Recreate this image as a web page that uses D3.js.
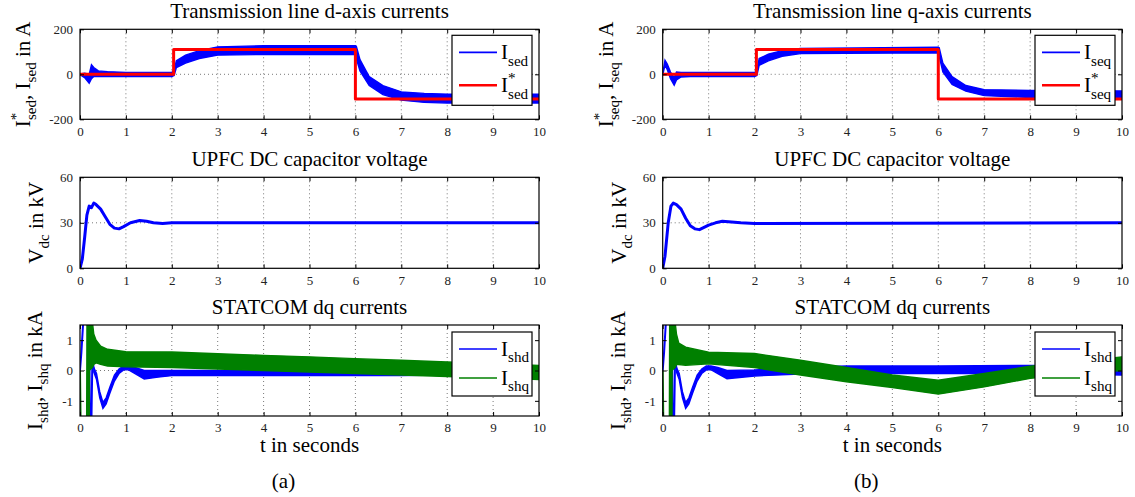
<!DOCTYPE html>
<html>
<head>
<meta charset="utf-8">
<script src="https://cdn.jsdelivr.net/npm/d3@7"></script>
<style>
  body { margin: 0; background: #fff; }
  svg, svg text, svg tspan { font-family: "Liberation Serif", "Times New Roman", "DejaVu Serif", serif; }
  .tick text { fill: #222; font-size: 13px; }
</style>
</head>
<body>
<svg id="chart" width="1135" height="497" font-family="Liberation Serif, serif"></svg>
<script>
// ---- data ----
const timeTicks = [0, 1, 2, 3, 4, 5, 6, 7, 8, 9, 10];
const currentTicks = [-200, 0, 200];
const voltageTicks = [0, 30, 60];
const shuntTicks = [-1, 0, 1];

// reference step (t, A)
const isedRef = [[0, 0], [2.04, 0], [2.04, 110], [6.0, 110], [6.0, -110], [10, -110]];
const iseqRef = [[0, 0], [2.04, 0], [2.04, 110], [6.0, 110], [6.0, -110], [10, -110]];

// measured currents as noise band (t, low, high) in A
const isedBand = [
  [0, -2, 2], [0.1, -15, 5], [0.2, -40, 0], [0.25, -20, 42], [0.3, -10, 30], [0.4, -10, 15],
  [0.6, -10, 12], [1, -10, 8], [2, -10, 8], [2.05, -5, 20], [2.1, 30, 60], [2.3, 50, 85],
  [2.6, 70, 105], [3, 85, 122], [4, 88, 127], [6, 88, 127], [6.02, 70, 125], [6.1, 15, 65],
  [6.3, -50, -10], [6.6, -90, -50], [7, -115, -78], [7.5, -125, -85], [8, -128, -88], [10, -128, -88]
];
const iseqBand = [
  [0, -2, 2], [0.05, 40, 62], [0.1, 20, 45], [0.17, -20, 10], [0.25, -48, -15], [0.3, -25, 10],
  [0.4, -12, 8], [0.6, -10, 8], [2, -10, 8], [2.05, -5, 15], [2.1, 40, 70], [2.3, 60, 90],
  [2.6, 80, 105], [3, 92, 115], [6, 95, 120], [6.02, 80, 118], [6.1, 10, 50], [6.3, -45, -10],
  [6.6, -75, -50], [7, -95, -68], [8, -103, -72], [10, -105, -74]
];

// DC capacitor voltage (t, kV)
const vdcA = [
  [0, 0], [0.05, 6], [0.1, 20], [0.15, 35], [0.2, 41], [0.25, 40], [0.3, 43], [0.35, 42],
  [0.45, 39], [0.55, 34], [0.65, 29], [0.75, 26.5], [0.85, 26], [0.95, 27.5], [1.1, 30],
  [1.3, 31.5], [1.45, 31], [1.6, 30], [1.8, 29.5], [2, 30], [10, 30]
];
const vdcB = [
  [0, 0], [0.05, 8], [0.12, 30], [0.18, 41], [0.23, 43], [0.3, 42], [0.4, 39], [0.5, 33],
  [0.6, 28], [0.7, 26], [0.8, 25.5], [0.9, 27], [1.0, 28.5], [1.15, 30], [1.3, 31],
  [1.5, 30.5], [1.7, 30], [2, 29.6], [10, 30]
];

// STATCOM start-up transients (t, kA)
const ishdStart = [[0, 0], [0.03, 0.6], [0.07, 1.6], [0.1, 2.5], [0.2, 2.5], [0.215, -2.5], [0.24, -2.5], [0.27, 0.4], [0.3, 0.05]];
const ishqStart = [[0, 0], [0.02, -2.5], [0.15, -2.5], [0.16, 2.5], [0.175, 2.5], [0.185, -2.5], [0.195, -2.5], [0.2, 1.6]];

// STATCOM currents as noise band (t, low, high) in kA
const ishdBandA = [
  [0.3, -0.05, 0.1], [0.36, -0.3, -0.1], [0.43, -0.9, -0.7], [0.5, -1.25, -1.05], [0.57, -1.1, -0.9],
  [0.65, -0.75, -0.55], [0.75, -0.35, -0.15], [0.85, -0.1, 0.05], [0.95, 0.02, 0.15], [1.05, 0.03, 0.15],
  [1.2, -0.1, 0.1], [1.4, -0.28, 0.0], [1.7, -0.22, 0.0], [2, -0.17, 0.0], [7, -0.17, 0.0],
  [8, -0.15, 0.0], [10, -0.1, 0.05]
];
const ishqBandA = [
  [0.2, 0.0, 1.6], [0.27, 0.1, 1.6], [0.3, 0.2, 1.2], [0.35, 0.25, 1.0], [0.45, 0.2, 0.8],
  [0.6, 0.15, 0.7], [1, 0.12, 0.62], [2, 0.1, 0.61], [3, 0.05, 0.55], [4, 0.0, 0.5],
  [5, -0.05, 0.45], [6, -0.1, 0.39], [7, -0.15, 0.34], [8, -0.2, 0.28], [9, -0.24, 0.23], [10, -0.3, 0.17]
];
const ishdBandB = [
  [0.3, -0.05, 0.1], [0.36, -0.3, -0.1], [0.43, -0.9, -0.7], [0.5, -1.25, -1.05], [0.57, -1.1, -0.9],
  [0.65, -0.75, -0.55], [0.75, -0.35, -0.15], [0.85, -0.1, 0.05], [0.95, 0.02, 0.15], [1.05, 0.03, 0.15],
  [1.2, -0.1, 0.1], [1.4, -0.27, 0.0], [2, -0.18, 0.02], [3, -0.12, 0.1], [4, -0.1, 0.15],
  [6, -0.1, 0.15], [8, -0.1, 0.17], [10, -0.15, 0.15]
];
const ishqBandB = [
  [0.2, 0.0, 1.6], [0.27, 0.1, 1.6], [0.3, 0.2, 1.2], [0.35, 0.2, 0.9], [0.5, 0.17, 0.77],
  [1, 0.22, 0.6], [2, 0.1, 0.56], [3, -0.15, 0.34], [4, -0.37, 0.1], [5, -0.56, -0.15],
  [6, -0.78, -0.32], [7, -0.54, -0.1], [8, -0.26, 0.14], [9, -0.1, 0.29], [10, 0.0, 0.45]
];

// ---- layout ----
const columns = [
  { x0: 80, x1: 539, tag: '(a)', axis: 'd' },
  { x0: 662.7, x1: 1122, tag: '(b)', axis: 'q' }
];
const rows = [
  { y0: 29.3, y1: 119.3 },
  { y0: 177.3, y1: 268.3 },
  { y0: 325, y1: 416 }
];

const FONT = '"Liberation Serif", "Times New Roman", serif';
const BLUE = '#0000ff', RED = '#ff0000', GREEN = '#008000';
const svg = d3.select('#chart');
let clipId = 0;

function rich(sel, parts, size) {
  // parts: [text, kind] kind = n | sub | sup | subb (sub placed under preceding sup)
  const small = size * 0.72;
  let cur = 0;
  parts.forEach(([txt, kind]) => {
    const target = kind === 'sup' ? -size * 0.42 : (kind === 'sub' || kind === 'subb') ? size * 0.3 : 0;
    const t = sel.append('tspan').text(txt)
      .attr('dy', target - cur)
      .style('font-size', (kind === 'n' ? size : small) + 'px');
    if (kind === 'subb') t.attr('dx', -small * 0.5);
    cur = target;
  });
}

function panel(col, row, cfg) {
  const x = d3.scaleLinear().domain([0, 10]).range([col.x0, col.x1]);
  const y = d3.scaleLinear().domain(cfg.domain).range([row.y1, row.y0]);
  const g = svg.append('g');

  // grid
  g.append('g').selectAll('line').data(timeTicks.slice(1, -1)).join('line')
    .attr('x1', d => x(d)).attr('x2', d => x(d)).attr('y1', row.y0).attr('y2', row.y1)
    .attr('stroke', '#555').attr('stroke-width', 0.8).attr('stroke-dasharray', '1,3');
  g.append('g').selectAll('line').data(cfg.ticks.slice(1, -1)).join('line')
    .attr('x1', col.x0).attr('x2', col.x1).attr('y1', d => y(d)).attr('y2', d => y(d))
    .attr('stroke', '#555').attr('stroke-width', 0.8).attr('stroke-dasharray', '1,3');

  // data
  const id = 'clip' + (clipId++);
  g.append('clipPath').attr('id', id).append('rect')
    .attr('x', col.x0).attr('y', row.y0).attr('width', col.x1 - col.x0).attr('height', row.y1 - row.y0);
  const plot = g.append('g').attr('clip-path', `url(#${id})`);
  const area = d3.area().x(d => x(d[0])).y0(d => y(d[1])).y1(d => y(d[2]));
  const line = d3.line().x(d => x(d[0])).y(d => y(d[1]));
  cfg.series.forEach(s => {
    if (s.band) {
      plot.append('path').datum(s.band).attr('d', area)
        .attr('fill', s.color).attr('stroke', s.color).attr('stroke-width', 1.4);
    } else {
      plot.append('path').datum(s.line).attr('d', line)
        .attr('fill', 'none').attr('stroke', s.color).attr('stroke-width', s.width)
        .attr('stroke-linejoin', 'round');
    }
  });

  // axes (inward ticks, mirrored)
  const tk = 4;
  const fmt = d => String(d);
  g.append('g').attr('transform', `translate(0,${row.y1})`)
    .call(d3.axisBottom(x).tickValues(timeTicks).tickFormat(fmt).tickSizeInner(-tk).tickSizeOuter(0).tickPadding(7));
  g.append('g').attr('transform', `translate(0,${row.y0})`)
    .call(d3.axisTop(x).tickValues(timeTicks).tickSizeInner(-tk).tickSizeOuter(0).tickFormat(''));
  g.append('g').attr('transform', `translate(${col.x0},0)`)
    .call(d3.axisLeft(y).tickValues(cfg.ticks).tickFormat(fmt).tickSizeInner(-tk).tickSizeOuter(0).tickPadding(7));
  g.append('g').attr('transform', `translate(${col.x1},0)`)
    .call(d3.axisRight(y).tickValues(cfg.ticks).tickSizeInner(-tk).tickSizeOuter(0).tickFormat(''));
  g.selectAll('.domain').remove();
  g.selectAll('.tick line').attr('stroke', '#000');
  g.selectAll('g[font-family]').attr('font-family', FONT).attr('font-size', null);
  g.selectAll('.tick text').style('font-family', FONT);

  g.append('rect').attr('x', col.x0).attr('y', row.y0)
    .attr('width', col.x1 - col.x0).attr('height', row.y1 - row.y0)
    .attr('fill', 'none').attr('stroke', '#000').attr('stroke-width', 1.2);

  // title
  g.append('text').attr('x', (col.x0 + col.x1) / 2).attr('y', row.y0 - 11)
    .attr('text-anchor', 'middle').style('font-family', FONT).style('font-size', '21px').text(cfg.title);

  // y label
  const yl = g.append('text').attr('text-anchor', 'middle').style('font-family', FONT)
    .attr('transform', `translate(${col.x0 - cfg.ylabelGap},${(row.y0 + row.y1) / 2}) rotate(-90)`);
  rich(yl, cfg.ylabel, 21);

  // legend
  if (cfg.legend) {
    const lw = 80, lh = cfg.legend.h;
    const lx = col.x1 - 7 - lw, ly = row.y0 + cfg.legend.top;
    const lg = g.append('g');
    lg.append('rect').attr('x', lx).attr('y', ly).attr('width', lw).attr('height', lh)
      .attr('fill', '#fff').attr('stroke', '#000').attr('stroke-width', 1.2);
    cfg.legend.items.forEach(it => {
      const yy = ly + it.dy;
      lg.append('line').attr('x1', lx + 7).attr('x2', lx + 45).attr('y1', yy).attr('y2', yy)
        .attr('stroke', it.color).attr('stroke-width', it.width);
      const tx = lg.append('text').attr('x', lx + 49).attr('y', yy + 7).style('font-family', FONT);
      rich(tx, it.label, 21);
    });
  }
}

columns.forEach((col, ci) => {
  const q = col.axis;
  const sub = 'se' + q;
  panel(col, rows[0], {
    domain: [-200, 200], ticks: currentTicks,
    title: `Transmission line ${q}-axis currents`,
    ylabelGap: 50,
    ylabel: [['I', 'n'], ['*', 'sup'], [sub, 'subb'], [', I', 'n'], [sub, 'sub'], [' in A', 'n']],
    series: [
      { band: ci === 0 ? isedBand : iseqBand, color: BLUE },
      { line: ci === 0 ? isedRef : iseqRef, color: RED, width: 3 }
    ],
    legend: {
      top: 6, h: 70,
      items: [
        { dy: 17, color: BLUE, width: 1.8, label: [['I', 'n'], [sub, 'sub']] },
        { dy: 50, color: RED, width: 2.6, label: [['I', 'n'], ['*', 'sup'], [sub, 'subb']] }
      ]
    }
  });
  panel(col, rows[1], {
    domain: [0, 60], ticks: voltageTicks,
    title: 'UPFC DC capacitor voltage',
    ylabelGap: 37,
    ylabel: [['V', 'n'], ['dc', 'sub'], [' in kV', 'n']],
    series: [{ line: ci === 0 ? vdcA : vdcB, color: BLUE, width: 3 }]
  });
  panel(col, rows[2], {
    domain: [-1.5, 1.5], ticks: shuntTicks,
    title: 'STATCOM dq currents',
    ylabelGap: 38,
    ylabel: [['I', 'n'], ['shd', 'sub'], [', I', 'n'], ['shq', 'sub'], [' in kA', 'n']],
    series: [
      { line: ishdStart, color: BLUE, width: 2 },
      { band: ci === 0 ? ishdBandA : ishdBandB, color: BLUE },
      { line: ishqStart, color: GREEN, width: 2 },
      { band: ci === 0 ? ishqBandA : ishqBandB, color: GREEN }
    ],
    legend: {
      top: 7, h: 64,
      items: [
        { dy: 17, color: BLUE, width: 1.5, label: [['I', 'n'], ['shd', 'sub']] },
        { dy: 46, color: GREEN, width: 1.5, label: [['I', 'n'], ['shq', 'sub']] }
      ]
    }
  });

  svg.append('text').attr('x', (col.x0 + col.x1) / 2).attr('y', rows[2].y1 + 36)
    .attr('text-anchor', 'middle').style('font-family', FONT).style('font-size', '21px').text('t in seconds');
  svg.append('text').attr('x', col.x0 + (col.x1 - col.x0) / 2 - 26).attr('y', 488)
    .attr('text-anchor', 'middle').style('font-family', FONT).style('font-size', '21px').text(col.tag);
});
</script>
</body>
</html>
